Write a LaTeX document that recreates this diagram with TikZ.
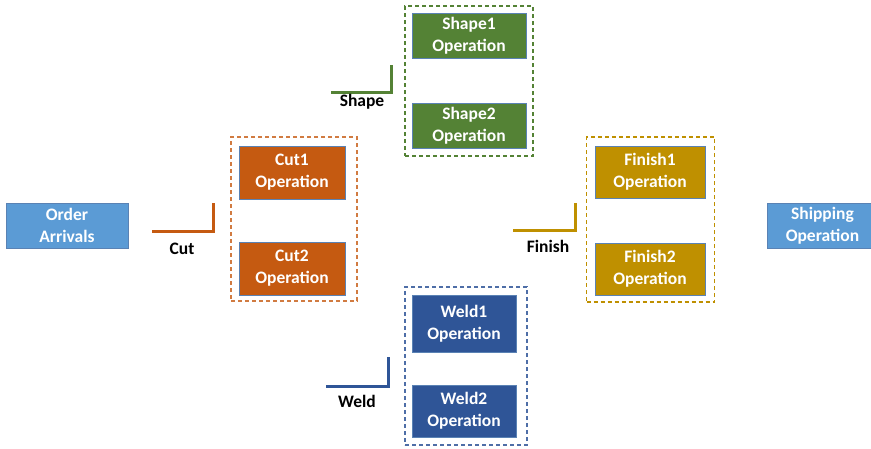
\documentclass[tikz,border=0pt]{standalone}
\usepackage{fontspec}
\setmainfont{Carlito}
\definecolor{lblue}{HTML}{5B9BD5}
\definecolor{cutc}{HTML}{C55A11}
\definecolor{shapec}{HTML}{548235}
\definecolor{weldc}{HTML}{2F5597}
\definecolor{finc}{HTML}{BF9000}
\definecolor{edgec}{HTML}{5A82B4}
\begin{document}
\begin{tikzpicture}[x=1pt,y=-1pt,
  opbox/.style={draw=edgec, line width=0.9pt, text=white, font=\bfseries\fontsize{17.5}{22}\selectfont,
    align=center, inner sep=0pt, minimum width=#1},
  grp/.style={draw=#1, line width=1.5pt, dash pattern=on 4pt off 3pt, inner sep=0pt},
  brk/.style={draw=#1, line width=3pt},
  lbl/.style={font=\bfseries\fontsize{17.5}{20}\selectfont, text=black}]
\useasboundingbox (0,0) rectangle (871,448);
% Order arrivals and shipping
\node[opbox=122pt, fill=lblue, minimum height=45pt] (order) at (67,225.5) {Order\\Arrivals};
\node[opbox=110pt, fill=lblue, minimum height=45pt, anchor=west] (ship) at (767,225.5) {Shipping\\Operation};
% Cut group
\node[grp=cutc!80, minimum width=126pt, minimum height=164pt] (cutgrp) at (294,219) {};
\node[opbox=106pt, fill=cutc, minimum height=53pt] (cut1) at (292,172.5) {Cut1\\Operation};
\node[opbox=106pt, fill=cutc, minimum height=53pt] (cut2) at (292,268.5) {Cut2\\Operation};
% Shape group
\node[grp=shapec, minimum width=128pt, minimum height=150pt] (shapegrp) at (469,81) {};
\node[opbox=114pt, fill=shapec, minimum height=45pt] (shape1) at (469,36) {Shape1\\Operation};
\node[opbox=114pt, fill=shapec, minimum height=45pt] (shape2) at (469,125.5) {Shape2\\Operation};
% Weld group
\node[grp=weldc!85, minimum width=122pt, minimum height=158pt] (weldgrp) at (466,366) {};
\node[opbox=104pt, fill=weldc, minimum height=57pt] (weld1) at (464,324) {Weld1\\Operation};
\node[opbox=104pt, fill=weldc, minimum height=52pt] (weld2) at (464,411) {Weld2\\Operation};
% Finish group
\node[grp=finc, minimum width=128pt, minimum height=165pt] (fingrp) at (650.5,219.5) {};
\node[opbox=110pt, fill=finc, minimum height=52pt] (fin1) at (650,172) {Finish1\\Operation};
\node[opbox=110pt, fill=finc, minimum height=52pt] (fin2) at (650,269) {Finish2\\Operation};
% Brackets
\coordinate (cA) at (152,231); \coordinate (cB) at (213,231); \coordinate (cC) at (213,203);
\draw[brk=cutc] (cA) -- (cB) -- (cC);
\node[lbl] (cutl) at (182,249) {Cut};
\coordinate (sA) at (331,92); \coordinate (sB) at (391,92); \coordinate (sC) at (391,65);
\draw[brk=shapec] (sA) -- (sB) -- (sC);
\node[lbl] (shapel) at (362,102) {Shape};
\coordinate (wA) at (326,386); \coordinate (wB) at (388,386); \coordinate (wC) at (388,357);
\draw[brk=weldc] (wA) -- (wB) -- (wC);
\node[lbl] (weldl) at (357,401) {Weld};
\coordinate (fA) at (513,230); \coordinate (fB) at (575,230); \coordinate (fC) at (575,203);
\draw[brk=finc] (fA) -- (fB) -- (fC);
\node[lbl] (finl) at (548,246) {Finish};
\end{tikzpicture}
\end{document}
